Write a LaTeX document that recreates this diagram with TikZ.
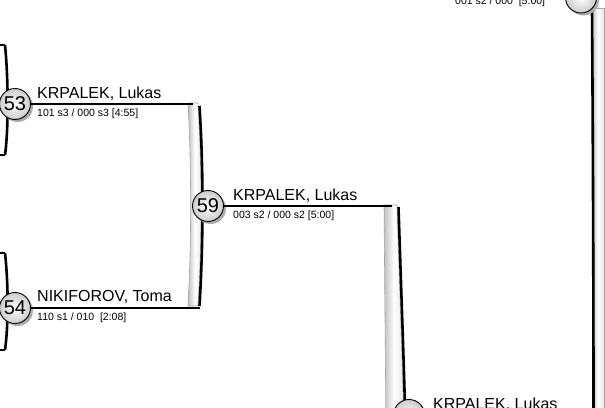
\documentclass[tikz,border=0pt]{standalone}
\usepackage{fontspec}
\setmainfont{Liberation Sans}
\usetikzlibrary{positioning,shadows}

\begin{document}
\begin{tikzpicture}[
  x=1pt,y=-1pt,
  seed/.style={circle,draw,line width=0.9pt,minimum size=31pt,inner sep=0pt,
    font=\fontsize{20}{20}\selectfont,shading=radial,inner color=white,outer color=gray!40,
    drop shadow={shadow xshift=2.5pt,shadow yshift=-2.5pt,fill=gray!65,opacity=1}},
  player/.style={anchor=base west,inner sep=0pt,font=\fontsize{16}{18}\selectfont},
  score/.style={anchor=base west,inner sep=0pt,font=\fontsize{10.5}{12}\selectfont},
  wire/.style={line width=1.6pt},
  rail/.style={line width=2.6pt},
  tube/.style={draw=gray!70,line width=0.6pt,left color=gray!50,right color=gray!20,middle color=white}
]
\useasboundingbox (0,0) rectangle (605,407);
\clip (0,0) rectangle (605,407);

\draw[wire] (-10,45) -- (5,45);
\draw[wire] (-10,155) -- (5,155);
\draw[rail] (5,45) .. controls (8.5,80) and (8.5,130) .. (5,155);
\draw[wire] (-10,253) -- (5,253);
\draw[wire] (-10,350) -- (5,350);
\draw[rail] (5,253) .. controls (8.5,285) and (8.5,325) .. (5,350);

\path[tube] (188,103) -- (198,103) .. controls (202,170) and (202,240) .. (198,306)
  -- (188,306) .. controls (191.5,240) and (191.5,170) .. (188,103) -- cycle;
\draw[rail] (199.5,106) .. controls (203.5,170) and (203.5,240) .. (199.5,306);
\path[tube] (384,205) -- (397,205) .. controls (400,300) and (403,380) .. (404,430)
  -- (386,430) -- cycle;
\draw[rail] (398.5,207) .. controls (401.5,300) and (404.5,380) .. (405.5,430);
\path[tube] (592,8) rectangle (604,420);
\draw[rail] (592,10) .. controls (593,150) and (593.5,300) .. (593.5,420);

\coordinate (a top) at (193,104);
\coordinate (a bottom) at (200,308);
\coordinate (b top) at (392,206);

\node[seed] (m53) at (15,104) {53};
\draw[wire] (m53.east) -- (a top);
\node[player] (n53) at (37,98) {KRPALEK, Lukas};
\node[score] (s53) at (37,116.5) {101 s3 / 000 s3 [4:55]};

\node[seed] (m54) at (15,308) {54};
\draw[wire] (m54.east) -- (a bottom);
\node[player] (n54) at (37,301) {NIKIFOROV, Toma};
\node[score] (s54) at (37,320) {110 s1 / 010\ \ [2:08]};

\node[seed] (m59) at (208,206) {59};
\draw[wire] (m59.east) -- (b top);
\node[player] (n59) at (233,200) {KRPALEK, Lukas};
\node[score] (s59) at (233,218) {003 s2 / 000 s2 [5:00]};

\node[seed] (m61) at (409,415) {};
\node[player] (n61) at (433,409) {KRPALEK, Lukas};

\node[seed] (m60) at (581,-2.5) {};
\node[score] (s60) at (455,4.5) {001 s2 / 000\ \ [5:00]};
\end{tikzpicture}
\end{document}
